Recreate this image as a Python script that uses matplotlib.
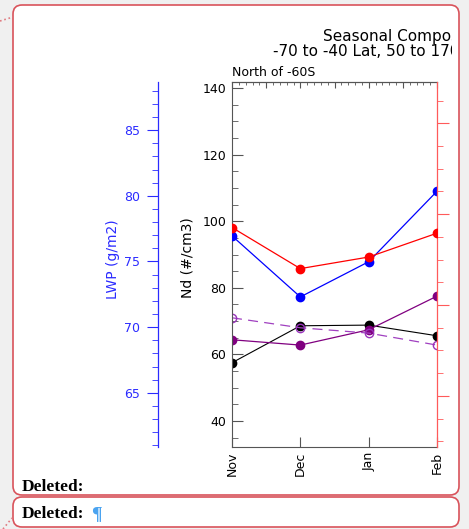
import matplotlib
matplotlib.use('Agg')
import matplotlib.pyplot as plt
from matplotlib.patches import FancyBboxPatch
from matplotlib.lines import Line2D
from matplotlib.ticker import MultipleLocator
from matplotlib.transforms import Bbox, IdentityTransform

# data
months = ['Nov', 'Dec', 'Jan', 'Feb']
nd_black = [57.5, 68.6, 68.8, 65.6]
nd_purple = [64.4, 62.8, 67.4, 77.5]
nd_purple_open = [71.0, 68.0, 66.4, 62.8]
lwp_blue = [76.95, 72.3, 74.98, 80.35]
red_vals = [57.05, 48.0, 50.55, 55.8]

W, H = 469, 529
fig = plt.figure(figsize=(W / 100, H / 100), dpi=100)
fig.patch.set_facecolor('#f0f0f0')
px = IdentityTransform()


def rect(x0, y0, x1, y1):
    # pixel box, top-left origin -> figure fraction rect
    return [x0 / W, 1 - y1 / H, (x1 - x0) / W, (y1 - y0) / H]


# word comment balloons
border = '#d9535b'
for (y0, y1) in [(5, 495), (497, 527)]:
    fig.patches.append(FancyBboxPatch((13, H - y1), 446, y1 - y0,
                                      boxstyle='round,pad=0,rounding_size=9',
                                      transform=px, facecolor='white',
                                      edgecolor=border, lw=1.2, zorder=-5))
fig.lines.append(Line2D([0, 13], [H - 21, H - 17], transform=px, color='#e07a80',
                        ls=':', lw=1.2, zorder=-4))
fig.lines.append(Line2D([3, 12], [0, 11], transform=px, color='#e07a80',
                        ls=':', lw=1.2, zorder=-4))

# main Nd axes
ax = fig.add_axes(rect(232, 82, 437, 447))
ax.set_xlim(0, 3)
ax.set_ylim(32.2, 141.8)
for s in ['left', 'bottom', 'top']:
    ax.spines[s].set_color('#555555')
    ax.spines[s].set_linewidth(0.8)
ax.spines['right'].set_visible(False)
ax.set_xticks(range(len(months)))
ax.set_xticklabels(months, rotation=90, fontsize=9)
ax.tick_params(axis='x', direction='in', length=7, pad=3.5, color='#555555')
ax.yaxis.set_major_locator(MultipleLocator(20))
ax.yaxis.set_minor_locator(MultipleLocator(5))
ax.tick_params(axis='y', which='major', direction='in', length=8, pad=4,
               labelsize=9, right=False, color='#555555')
ax.tick_params(axis='y', which='minor', direction='in', length=4, right=False,
               color='#555555')
ax.set_ylabel('Nd (#/cm3)', fontsize=10)
ax.yaxis.set_label_coords(-0.185, 0.52)

ax.plot(range(4), nd_black, color='black', lw=0.8, marker='o', ms=6)
ax.plot(range(4), nd_purple, color='#800080', lw=0.9, marker='o', ms=6)
ax.plot(range(4), nd_purple_open, color='#a040c0', lw=0.9, dashes=(8, 5),
        marker='o', ms=6, mfc='none', mec='#9933bb')

# top axis with fine ticks
axt = ax.twiny()
axt.set_xlim(0, 6)
axt.xaxis.set_major_locator(MultipleLocator(1))
axt.xaxis.set_minor_locator(MultipleLocator(0.2))
axt.tick_params(axis='x', which='major', direction='in', length=4, labeltop=False,
                color='#555555')
axt.tick_params(axis='x', which='minor', direction='in', length=2.3, color='#555555')
for s in ['left', 'right', 'bottom']:
    axt.spines[s].set_visible(False)
axt.spines['top'].set_color('#555555')
axt.spines['top'].set_linewidth(0.8)

# red right axis
red = '#ff5a5a'
axr = ax.twinx()
axr.set_ylim(8.73, 89.08)
axr.yaxis.set_major_locator(MultipleLocator(20))
axr.yaxis.set_minor_locator(MultipleLocator(5))
axr.tick_params(axis='y', which='major', direction='out', length=8.5, color=red,
                labelright=False)
axr.tick_params(axis='y', which='minor', direction='out', length=4.5, color=red)
for s in ['left', 'top', 'bottom']:
    axr.spines[s].set_visible(False)
axr.spines['right'].set_color(red)
axr.spines['right'].set_linewidth(0.9)
axr.plot(range(4), red_vals, color='red', lw=0.9, marker='o', ms=6, zorder=3)

# blue LWP axis off to the left
blue = '#2b2bff'
axb = ax.twinx()
axb.set_ylim(60.87, 88.67)
axb.yaxis.tick_left()
axb.yaxis.set_label_position('left')
axb.spines['left'].set_position(('axes', (158.3 - 232) / 205))
for s in ['right', 'top', 'bottom']:
    axb.spines[s].set_visible(False)
axb.spines['left'].set_color(blue)
axb.spines['left'].set_linewidth(0.9)
axb.yaxis.set_major_locator(MultipleLocator(5))
axb.yaxis.set_minor_locator(MultipleLocator(1))
axb.tick_params(axis='y', which='major', direction='out', length=8, pad=5,
                color=blue, labelcolor=blue, labelsize=9)
axb.tick_params(axis='y', which='minor', direction='out', length=4, color=blue)
axb.set_ylabel('LWP (g/m2)', fontsize=10, color=blue)
axb.yaxis.set_label_coords(-0.546, 0.515)
axb.plot(range(4), lwp_blue, color='blue', lw=0.9, marker='o', ms=6, zorder=2)
axr.set_zorder(axb.get_zorder() + 1)

# titles (cut off by the balloon edge, as in the screenshot)
clip = Bbox.from_extents(13, 0, 452, H)
for txt, x0, yc, fs in [('Seasonal Composite', 323, 37, 11),
                        ('-70 to -40 Lat, 50 to 170 Lon', 273, 51, 11),
                        ('North of -60S', 232, 73, 9)]:
    t = fig.text(x0 / W, 1 - yc / H, txt, fontsize=fs, va='center', ha='left')
    t.set_clip_box(clip)
    t.set_clip_on(True)

serif = ['Liberation Serif', 'DejaVu Serif']
fig.text(22 / W, 1 - 491 / H, 'Deleted:', family=serif, fontweight='bold',
         fontsize=12.5, va='baseline')
fig.text(22 / W, 1 - 518 / H, 'Deleted:', family=serif, fontweight='bold',
         fontsize=12.5, va='baseline')
fig.text(91 / W, 1 - 519 / H, '\u00b6', family=serif, fontweight='bold',
         fontsize=14, va='baseline', color='#4aa3f0')

fig.savefig('out.png', dpi=100, facecolor=fig.get_facecolor())
